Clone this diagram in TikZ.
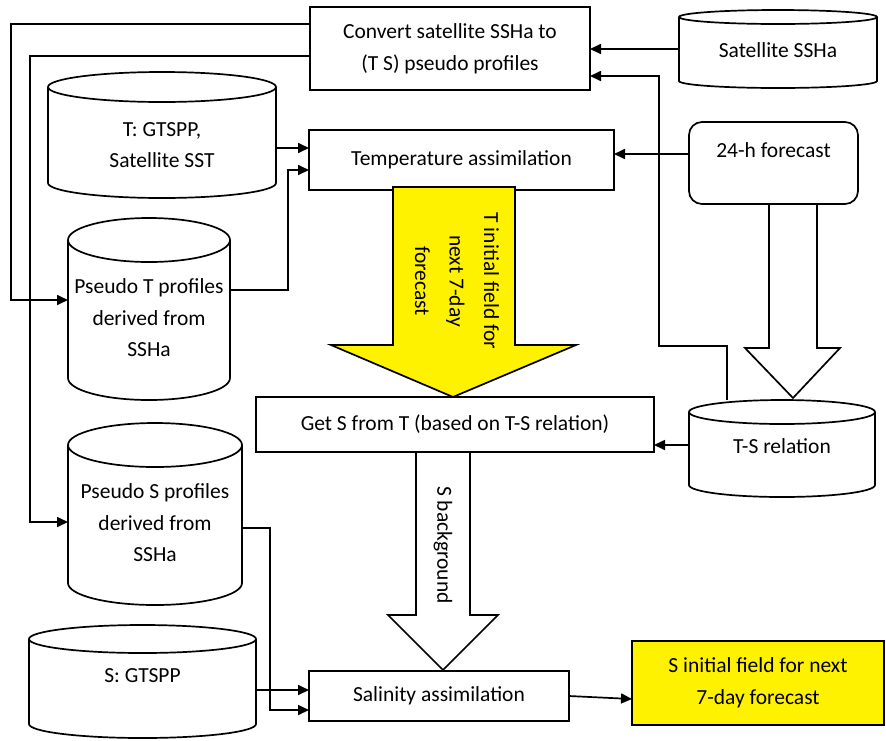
\documentclass[tikz,border=0pt]{standalone}
\usepackage{fontspec}
\setmainfont{Carlito}
\usetikzlibrary{arrows.meta,calc}
\newcommand\cyl[8]{%
 \pgfmathsetmacro\cylcx{(#2+#3)/2}%
 \pgfmathsetmacro\cylrx{(#3-#2)/2}%
 \pgfmathsetmacro\cylcy{-(#4+#5)/2}%
 \pgfmathsetmacro\cylw{#3-#2}%
 \pgfmathsetmacro\cylh{#5-#4}%
 \node[shapebox, minimum width=\cylw pt, minimum height=\cylh pt] (#1) at (\cylcx,\cylcy) {};
 \draw[cylline] (#2,-#4-#6) -- (#2,-#5+#6) arc[start angle=180, end angle=360, x radius=\cylrx pt, y radius=#6pt] -- (#3,-#4-#6);
 \draw[cylline] (\cylcx,-#4-#6) ellipse[x radius=\cylrx pt, y radius=#6pt];
 \node[txt] (#1-t) at (\cylcx,-#7) {#8};
}
\begin{document}
\begin{tikzpicture}[x=1pt,y=1pt,line width=1.7pt,
 txt/.style={font=\fontsize{21.5}{31.5}\selectfont, align=center, inner sep=0pt},
 box/.style={draw, rectangle, inner sep=0pt, outer sep=0pt, font=\fontsize{21.5}{32}\selectfont, align=center},
 shapebox/.style={rectangle, inner sep=0pt, outer sep=0pt},
 cylline/.style={draw, line width=1.7pt},
 arr/.style={-{Triangle[length=11pt,width=10pt]}, line width=1.7pt},
 fatarrow/.style={draw, line width=1.7pt, line join=miter}
]
\useasboundingbox[fill=white] (0,0) rectangle (886,-740);

% boxes
\node[box, minimum width=280pt, minimum height=83pt] (conv) at (450,-48.5) {Convert satellite SSHa to\\(T S) pseudo profiles};
\node[box, minimum width=305pt, minimum height=60pt] (temp) at (461.5,-160) {Temperature assimilation};
\node[box, rounded corners=13pt, minimum width=169pt, minimum height=82pt] (fc24) at (773.5,-163) {};
\node[txt] (fc24-t) at (773.5,-150) {24-h forecast};
\node[box, minimum width=398pt, minimum height=55pt] (gets) at (455,-424.5) {Get S from T (based on T-S relation)};
\node[box, minimum width=260pt, minimum height=50pt] (sal) at (439,-696) {Salinity assimilation};
\node[box, fill=yellow, minimum width=252pt, minimum height=84pt] (sinit) at (758,-683) {S initial field for next\\7-day forecast};

% cylinders
\cyl{sat}{679}{877}{10}{88}{7}{50}{Satellite SSHa}
\cyl{tgt}{48}{276}{72}{198}{15}{145}{T: GTSPP,\\Satellite SST}
\cyl{pst}{68}{230}{218}{400}{22}{318}{Pseudo T profiles\\derived from\\SSHa}
\cyl{pss}{68}{242}{423}{605}{22}{523}{Pseudo S profiles\\derived from\\SSHa}
\cyl{sg}{29}{256}{625}{738}{14}{676}{S: GTSPP}
\cyl{ts}{689}{875}{400}{497}{12}{446}{T-S relation}

% fat arrows
\draw[fatarrow, fill=yellow] (393,-187) -- (515,-187) -- (515,-345) -- (576,-345) -- (453,-397) -- (331,-345) -- (393,-345) -- cycle;
\node[txt, rotate=-90, font=\fontsize{21.5}{34.5}\selectfont] (tlabel) at (457,-281) {T initial field for\\next 7-day\\forecast};
\draw[fatarrow, fill=white] (769,-204) -- (817,-204) -- (817,-348) -- (840,-348) -- (793,-398) -- (745,-348) -- (769,-348) -- cycle;
\draw[fatarrow, fill=white] (416,-452) -- (470,-452) -- (470,-615) -- (498,-615) -- (443,-670) -- (388,-615) -- (416,-615) -- cycle;
\node[txt, rotate=-90] (slabel) at (443,-545) {S background};

% connectors
\draw[arr] (sat.west) -- (sat.west -| conv.east);
\draw[arr] ([xshift=-55pt]ts.north) |- (659,-346) |- ([yshift=-27.5pt]conv.east);
\draw[arr] ([yshift=9pt]fc24.west) -- ([yshift=9pt]fc24.west -| temp.east);
\draw[arr] ([yshift=3.5pt]ts.west) -- ([yshift=3.5pt]ts.west -| gets.east);
\draw[arr] ([yshift=-13pt]tgt.east) -- ([yshift=-13pt]tgt.east -| temp.west);
\draw[arr] ([yshift=19pt]pst.east) -- (288,-290) |- ([yshift=-10pt]temp.west);
\draw[arr] ([yshift=24.5pt]conv.west) -| ([xshift=-57pt,yshift=9pt]pst.west) -- ([yshift=9pt]pst.west);
\draw[arr] ([yshift=-7.5pt]conv.west) -| ([xshift=-38pt,yshift=-8pt]pss.west) -- ([yshift=-8pt]pss.west);
\draw[arr] ([yshift=-14pt]pss.east) -- (270,-528) |- ([yshift=-14pt]sal.west);
\draw[arr] ([yshift=-8.5pt]sg.east) -- ([yshift=-8.5pt]sg.east -| sal.west);
\draw[arr] (sal.east) -- ([yshift=-16pt]sinit.west);
\end{tikzpicture}
\end{document}
